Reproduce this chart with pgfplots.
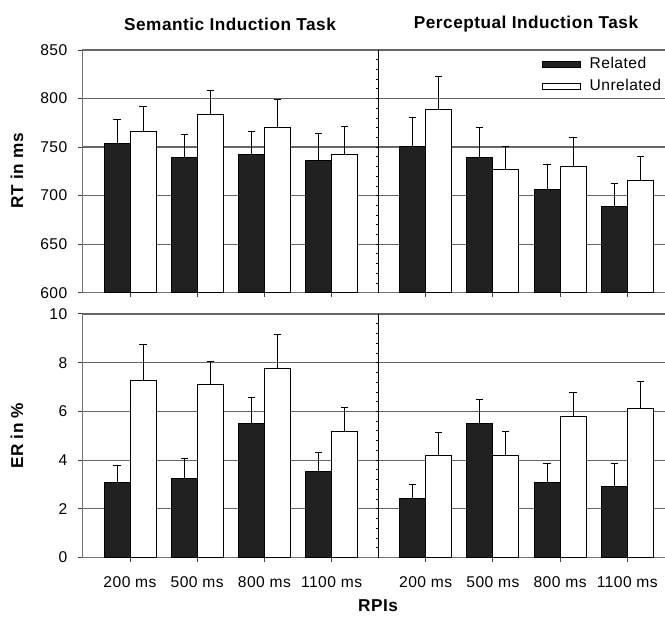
\documentclass[border=0pt]{standalone}
\usepackage{fontspec}
\setmainfont[LetterSpace=3]{Liberation Sans}
\usepackage{pgfplots}
\usepackage{pgfplotstable}
\pgfplotsset{compat=1.18}

% RT in ms: bar height and upper error
\pgfplotstableread{
x    rel    relE  unr    unrE
0    753.9  25.0  766.3  25.3
1    739.1  23.4  783.1  25.7
2    741.9  24.7  770.0  29.2
3    736.0  28.5  741.9  29.1
4.4  750.4  29.9  789.2  34.0
5.4  739.5  30.9  727.1  23.7
6.4  706.5  26.1  730.2  29.5
7.4  688.3  24.0  715.8  24.7
}\rtdata

% ER in %
\pgfplotstableread{
x    rel   relE  unr   unrE
0    3.07  0.72  7.28  1.48
1    3.24  0.82  7.10  0.94
2    5.50  1.06  7.76  1.41
3    3.55  0.77  5.17  0.98
4.4  2.42  0.56  4.20  0.94
5.4  5.50  0.98  4.20  0.97
6.4  3.07  0.78  5.80  0.97
7.4  2.91  0.94  6.13  1.08
}\erdata

\pgfplotsset{
  panel/.style={
    scale only axis, width=291.3pt,
    xmin=-0.71, xmax=7.96,
    axis x line*=bottom, axis y line*=left,
    axis line style={black!55, line width=0.7pt},
    ymajorgrids, grid style={black!60, line width=0.6pt},
    tick align=outside, major tick length=2pt,
    tick style={black!75, line width=0.5pt},
    xtick={0,1,2,3,4.4,5.4,6.4,7.4},
    ybar=0pt, bar width=0.387,
    ticklabel style={font=\fontsize{7.8}{9}\selectfont},
    /pgf/number format/assume math mode=true,
    yticklabel style={xshift=-2pt},
    clip=false,
  },
  errs/.style={error bars/.cd, y dir=plus, y explicit,
    error bar style={black, line width=0.45pt},
    error mark options={black, rotate=90, mark size=1.8pt, line width=0.45pt}},
  relbar/.style={fill=black!87, draw=black, line width=0.5pt, errs},
  unrbar/.style={fill=white, draw=black, line width=0.5pt, errs},
}

\begin{document}
\begin{tikzpicture}
\path[use as bounding box] (0,0) rectangle (332.5pt,308.5pt);

% RT panel
\begin{axis}[panel, at={(41.15pt,162.15pt)}, anchor=south west,
    height=121.35pt, ymin=600, ymax=850, ytick={600,650,...,850},
    xticklabels={},
    legend style={draw=none, fill=none, at={(axis cs:6.12,846)}, anchor=north west,
      font=\fontsize{7.8}{9}\selectfont, inner sep=0pt, row sep=1.6pt,
      nodes={inner sep=1.3pt},
      /tikz/every odd column/.append style={column sep=3.2pt}},
    legend cell align=left,
    legend image code/.code={\draw[#1, line width=0.5pt] (0pt,-1.5pt) rectangle (19pt,1.5pt);},
  ]
  \addplot[relbar] table[x=x, y=rel, y error=relE] {\rtdata};
  \addlegendentry{Related}
  \addplot[unrbar] table[x=x, y=unr, y error=unrE] {\rtdata};
  \addlegendentry{Unrelated}
  \draw[black, line width=0.6pt] (axis cs:3.7,600) -- (axis cs:3.7,850);
  \pgfplotsinvokeforeach{610,620,...,840}{
    \draw[black, line width=0.4pt] (axis cs:3.7,#1) -- ++(-1.4pt,0pt);
  }
\end{axis}

% ER panel
\begin{axis}[panel, at={(41.15pt,29.75pt)}, anchor=south west,
    height=121.75pt, ymin=0, ymax=10, ytick={0,2,...,10},
    xticklabels={200 ms,500 ms,800 ms,1100 ms,200 ms,500 ms,800 ms,1100 ms},
    xticklabel style={yshift=-4pt},
  ]
  \addplot[relbar] table[x=x, y=rel, y error=relE] {\erdata};
  \addplot[unrbar] table[x=x, y=unr, y error=unrE] {\erdata};
  \draw[black, line width=0.6pt] (axis cs:3.7,0) -- (axis cs:3.7,10);
  \pgfplotsinvokeforeach{0.4,0.8,...,9.7}{
    \draw[black, line width=0.4pt] (axis cs:3.7,#1) -- ++(-1.4pt,0pt);
  }
\end{axis}

\node[font=\bfseries\fontsize{8.6}{10}\selectfont] at (115pt,296.5pt) {Semantic Induction Task};
\node[font=\bfseries\fontsize{8.6}{10}\selectfont] at (263pt,296.5pt) {Perceptual Induction Task};
\node[rotate=90, font=\bfseries\fontsize{8.6}{10}\selectfont] at (8.5pt,223pt) {RT in ms};
\node[rotate=90, font=\bfseries\fontsize{8.6}{10}\selectfont] at (8.5pt,90.6pt) {ER in \%};
\node[font=\bfseries\fontsize{8.6}{10}\selectfont] at (189pt,5.5pt) {RPIs};
\end{tikzpicture}
\end{document}
